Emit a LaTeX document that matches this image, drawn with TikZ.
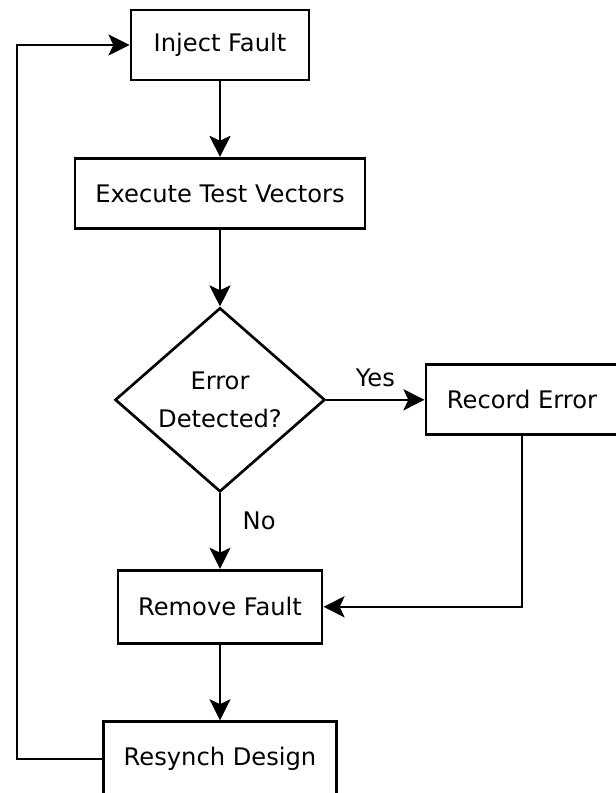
\documentclass[tikz,border=0pt]{standalone}
\usepackage{fontspec}
\setmainfont{DejaVu Sans}
\usetikzlibrary{shapes.geometric,arrows.meta}

\begin{document}
\begin{tikzpicture}[node distance=3.7cm, font=\fontsize{17.2}{27}\selectfont]
  \tikzstyle{box}=[rectangle, draw, line width=2.1pt, minimum height=1.75cm, inner sep=0pt]
  \tikzstyle{decision}=[diamond, aspect=1.14, draw, line width=1.9pt, minimum width=5.25cm, minimum height=4.6cm, inner sep=0pt, align=center]
  \tikzstyle{flow}=[line width=1.6pt, -{Stealth[length=15pt, width=15pt, inset=3.5pt]}]
  \useasboundingbox (-5.5,1.125) rectangle (9.875,-18.7);
  \node[box, minimum width=4.45cm] (inject) {Inject Fault};
  \node[box, minimum width=7.25cm, node distance=3.71cm, below of=inject] (exec) {Execute Test Vectors};
  \node[decision, node distance=5.16cm, below of=exec] (detect) {Error\\Detected?};
  \node[box, minimum width=4.8cm, node distance=7.55cm, right of=detect] (record) {Record Error};
  \node[box, minimum width=5.1cm, minimum height=1.825cm, node distance=5.175cm, below of=detect] (remove) {Remove Fault};
  \node[box, minimum width=5.825cm, minimum height=1.85cm, node distance=3.8cm, below of=remove] (resynch) {Resynch Design};
  \coordinate (loop) at (-5.075,0);
  \draw[flow] (inject) -- (exec);
  \draw[flow] (exec) -- (detect);
  \draw[flow] (detect) -- node[above=5pt] {Yes} (record);
  \draw[flow] (detect) -- node[pos=0.36, right=12pt] {No} (remove);
  \draw[flow] (record) |- (remove);
  \draw[flow] (remove) -- (resynch);
  \draw[flow] (resynch) -| (loop) -- (inject);
\end{tikzpicture}
\end{document}
